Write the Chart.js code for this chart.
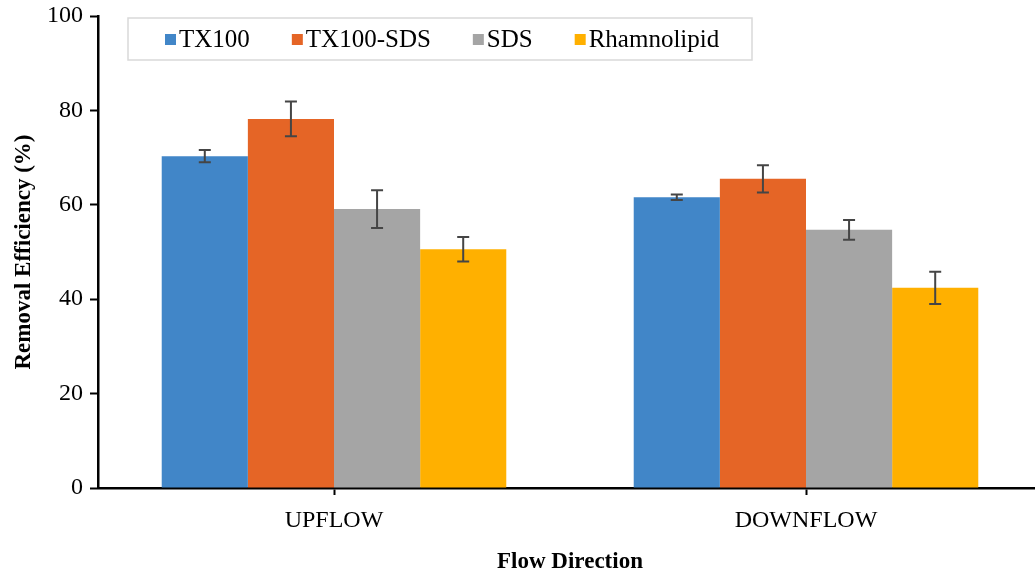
<!DOCTYPE html>
<html>
<head>
<meta charset="utf-8">
<script src="https://cdn.jsdelivr.net/npm/chart.js@4.4.1/dist/chart.umd.min.js"></script>
<style>
  html, body { margin: 0; padding: 0; background: #fff; overflow: hidden; }
  #wrap { position: relative; width: 1050px; height: 576px; }
</style>
</head>
<body>
<div id="wrap"><canvas id="chart"></canvas></div>
<script>
const categories = ["UPFLOW", "DOWNFLOW"]
const seriesNames = ["TX100", "TX100-SDS", "SDS", "Rhamnolipid"]
const seriesColors = ["#4186C8", "#E56526", "#A5A5A5", "#FFB000"]

// mean values
const tx100 = [70.3, 61.6]
const tx100Sds = [78.2, 65.5]
const sds = [59.1, 54.7]
const rhamnolipid = [50.6, 42.4]

// +/- error for each bar
const tx100Err = [1.3, 0.6]
const tx100SdsErr = [3.7, 2.9]
const sdsErr = [4.0, 2.1]
const rhamnolipidErr = [2.6, 3.4]

const yTicks = [0, 20, 40, 60, 80, 100]

const serif = "'Liberation Serif', 'Times New Roman', serif"

const values = [tx100, tx100Sds, sds, rhamnolipid]
const errors = [tx100Err, tx100SdsErr, sdsErr, rhamnolipidErr]

// draws the whisker on top of every bar
const errorBars = {
  id: 'errorBars',
  afterDatasetsDraw(chart) {
    const ctx = chart.ctx
    const y = chart.scales.y
    ctx.save()
    ctx.strokeStyle = '#454545'
    ctx.lineWidth = 2
    chart.data.datasets.forEach((ds, i) => {
      const meta = chart.getDatasetMeta(i)
      meta.data.forEach((bar, j) => {
        const v = ds.data[j]
        const e = ds.errors[j]
        const top = y.getPixelForValue(v + e)
        const bot = y.getPixelForValue(v - e)
        const cap = 6
        ctx.beginPath()
        ctx.moveTo(bar.x, top); ctx.lineTo(bar.x, bot)
        ctx.moveTo(bar.x - cap, top); ctx.lineTo(bar.x + cap, top)
        ctx.moveTo(bar.x - cap, bot); ctx.lineTo(bar.x + cap, bot)
        ctx.stroke()
      })
    })
    ctx.restore()
  }
}

// boxed legend sitting inside the plot, like the original
const boxLegend = {
  id: 'boxLegend',
  afterDraw(chart) {
    const ctx = chart.ctx
    ctx.save()
    const left = 128, top = 18, w = 624, h = 42
    ctx.fillStyle = '#fff'
    ctx.fillRect(left, top, w, h)
    ctx.strokeStyle = '#d9d9d9'
    ctx.lineWidth = 1.5
    ctx.strokeRect(left, top, w, h)

    ctx.font = '25px ' + serif
    ctx.textBaseline = 'middle'
    const cy = top + h / 2
    let x = 165
    chart.data.datasets.forEach(ds => {
      ctx.fillStyle = ds.backgroundColor
      ctx.fillRect(x, cy - 5, 11, 11)
      ctx.fillStyle = '#000'
      ctx.fillText(ds.label, x + 14, cy + 1)
      x += 14 + ctx.measureText(ds.label).width + 42
    })
    ctx.restore()
  }
}

new Chart(document.getElementById('chart'), {
  type: 'bar',
  data: {
    labels: categories,
    datasets: seriesNames.map((name, i) => ({
      label: name,
      data: values[i],
      errors: errors[i],
      backgroundColor: seriesColors[i],
      borderWidth: 0,
      barPercentage: 1.0,
      categoryPercentage: 0.73
    }))
  },
  options: {
    responsive: true,
    maintainAspectRatio: false,
    animation: false,
    layout: { padding: { top: 16, right: 8, left: 0, bottom: 0 } },
    plugins: {
      legend: { display: false },
      tooltip: { enabled: false }
    },
    scales: {
      x: {
        grid: {
          display: true,
          drawOnChartArea: false,
          drawTicks: true,
          offset: false,
          tickLength: 7,
          tickWidth: 2,
          color: '#000'
        },
        border: { color: '#000', width: 2.5 },
        ticks: {
          color: '#000',
          padding: 11,
          font: { family: serif, size: 24 }
        },
        title: {
          display: true,
          text: 'Flow Direction',
          color: '#000',
          padding: { top: 0, bottom: 0 },
          font: { family: serif, size: 23, weight: 'bold' }
        },
        afterFit(scale) { scale.height = 88 }
      },
      y: {
        min: 0,
        max: 100,
        afterBuildTicks(scale) { scale.ticks = yTicks.map(v => ({ value: v })) },
        grid: {
          display: true,
          drawOnChartArea: false,
          drawTicks: true,
          tickLength: 8,
          tickWidth: 2,
          color: '#000'
        },
        border: { color: '#000', width: 2.5 },
        ticks: {
          color: '#000',
          padding: 7,
          font: { family: serif, size: 24 }
        },
        title: {
          display: true,
          text: 'Removal Efficiency (%)',
          color: '#000',
          padding: { top: 10, bottom: 0 },
          font: { family: serif, size: 23, weight: 'bold' }
        },
        afterFit(scale) {
          scale.width = 98
          scale.paddingTop = 0
          scale.paddingBottom = 0
        }
      }
    }
  },
  plugins: [errorBars, boxLegend]
})
</script>
</body>
</html>
